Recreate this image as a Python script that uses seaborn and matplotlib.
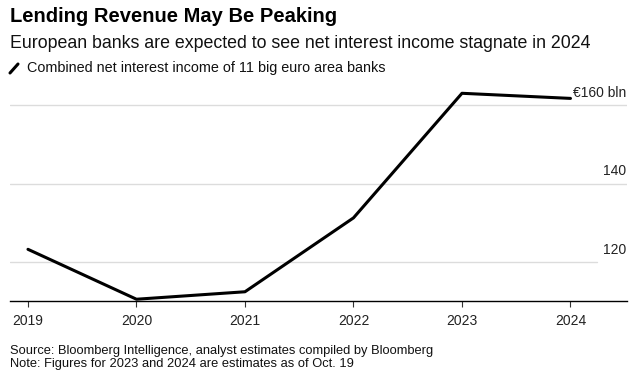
import matplotlib
matplotlib.use("Agg")
import matplotlib.pyplot as plt
import matplotlib.transforms as mtransforms
from matplotlib.lines import Line2D
import pandas as pd
import seaborn as sns

# === DATA ===
years = [2019, 2020, 2021, 2022, 2023, 2024]
net_interest_income = [123.3, 110.6, 112.5, 131.3, 163.0, 161.7]
y_ticks = [120, 140, 160]
y_tick_labels = ["120", "140", "€160 bln"]

title = "Lending Revenue May Be Peaking"
subtitle = "European banks are expected to see net interest income stagnate in 2024"
legend_label = "Combined net interest income of 11 big euro area banks"
source = "Source: Bloomberg Intelligence, analyst estimates compiled by Bloomberg"
note = "Note: Figures for 2023 and 2024 are estimates as of Oct. 19"

df = pd.DataFrame({"year": years, "nii": net_interest_income})

# === STYLE ===
sns.set_theme(style="white")
plt.rcParams["font.family"] = ["Liberation Sans", "DejaVu Sans"]

fig = plt.figure(figsize=(6.35, 3.78), dpi=100)
ax = fig.add_axes([0.0157, 0.2037, 0.9717, 0.5807])

sns.lineplot(data=df, x="year", y="nii", color="black", linewidth=2.2, ax=ax)

ax.set_xlim(2018.834, 2024.521)
ax.set_ylim(110.15, 166)

# gridlines (the lowest stops short of the right edge)
for t in y_ticks:
    xmax = 0.951 if t == y_ticks[0] else 1.0
    ax.axhline(t, xmin=0, xmax=xmax, color="#dcdcdc", linewidth=1.0, zorder=0)

# right-side value labels sitting above the gridlines
offset = mtransforms.offset_copy(ax.get_yaxis_transform(), fig=fig, x=-1, y=12.5, units="dots")
for t, lab in zip(y_ticks, y_tick_labels):
    ax.text(1.0, t, lab, transform=offset, ha="right", va="center", fontsize=10, color="#222222")

ax.set_yticks([])
ax.set_xticks(years)
ax.set_xticklabels([str(y) for y in years])
ax.tick_params(axis="x", bottom=True, length=4.5, width=0.8, color="#333333", pad=5,
               labelsize=10, labelcolor="#222222")
ax.set_xlabel("")
ax.set_ylabel("")
for side in ["top", "right", "left"]:
    ax.spines[side].set_visible(False)
ax.spines["bottom"].set_color("black")
ax.spines["bottom"].set_linewidth(1.0)

# === HEADER ===
fig.text(10 / 635, 1 - 17 / 378, title, fontsize=14.5, fontweight="bold", ha="left", va="center", color="black")
fig.text(10 / 635, 1 - 44 / 378, subtitle, fontsize=12.8, ha="left", va="center", color="#111111")
fig.add_artist(Line2D([10 / 635, 18 / 635], [1 - 73 / 378, 1 - 64 / 378], color="black", linewidth=2.2,
                      transform=fig.transFigure))
fig.text(27 / 635, 1 - 68 / 378, legend_label, fontsize=10.4, ha="left", va="center", color="#111111")

# === FOOTER ===
fig.text(10 / 635, 1 - 351 / 378, source, fontsize=9.3, ha="left", va="center", color="#111111")
fig.text(10 / 635, 1 - 364 / 378, note, fontsize=9.3, ha="left", va="center", color="#111111")

fig.savefig("out.png", dpi=100)
plt.close(fig)
